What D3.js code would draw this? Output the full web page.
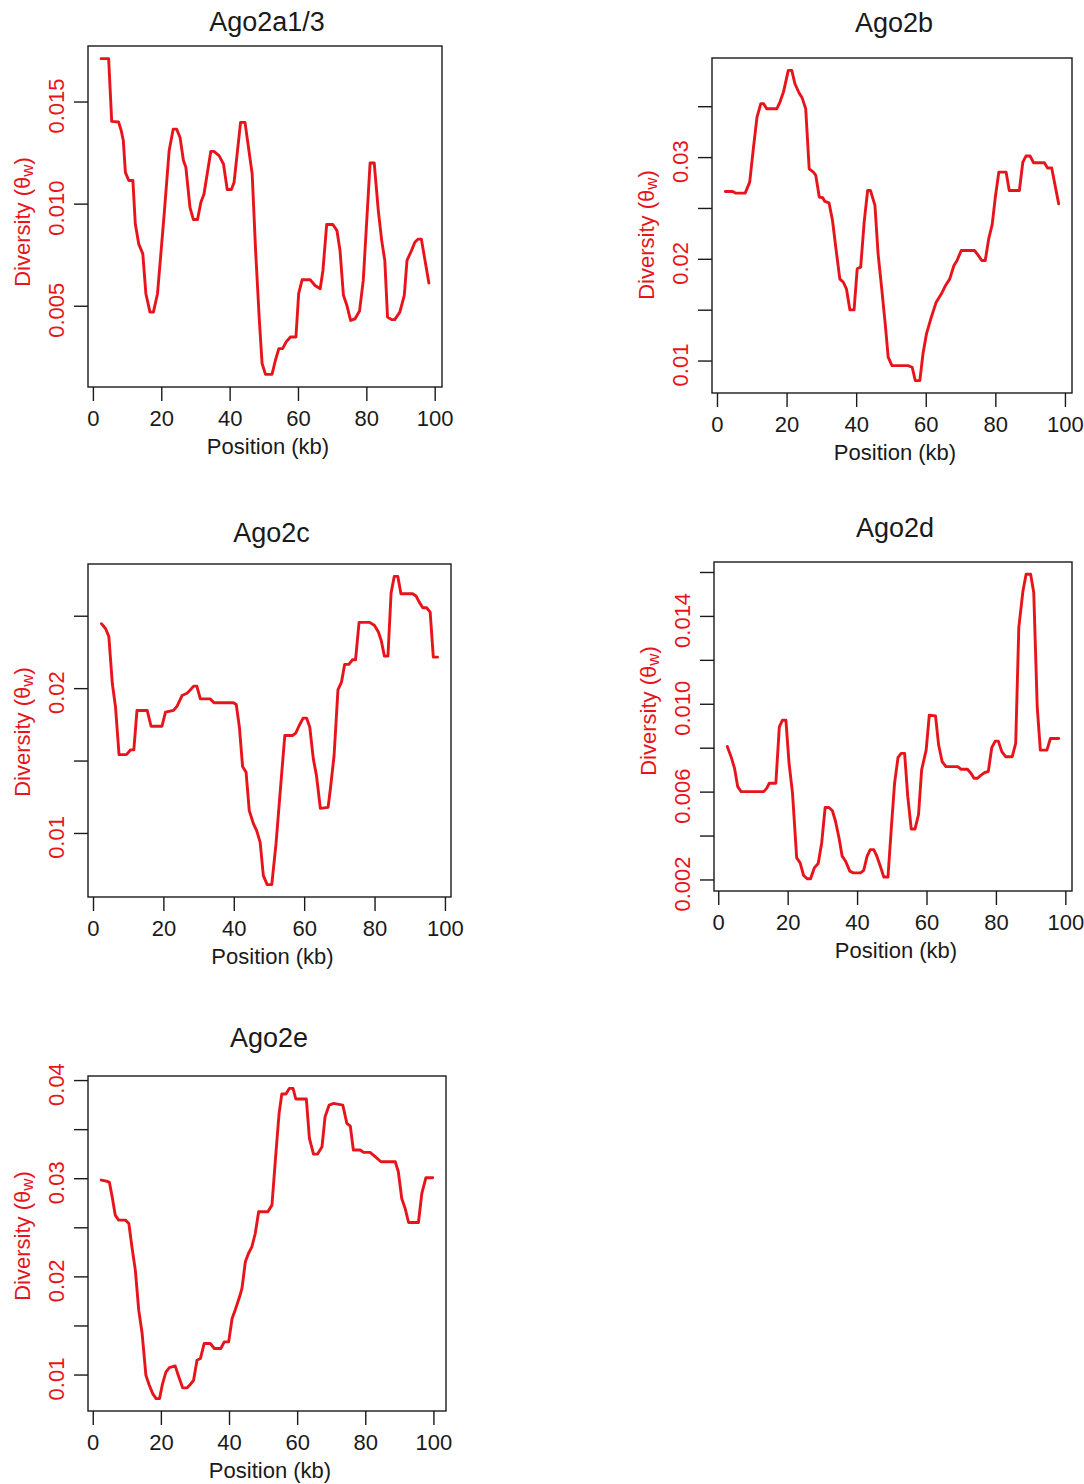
<!DOCTYPE html>
<html>
<head>
<meta charset="utf-8">
<script src="https://cdn.jsdelivr.net/npm/d3@7/dist/d3.min.js"></script>
<style>
body{margin:0;background:#fff;}
text{font-family:"Liberation Sans",Arial,Helvetica,sans-serif;}
</style>
</head>
<body>
<svg id="chart" width="1084" height="1484"></svg>
<script>
// ---- data ----
var ago2a_kb  = [2.4,4.6,5.5,7.5,8.3,8.9,9.5,10.5,11.7,12.4,13.4,14.6,15.5,16.7,17.7,18.9,20.9,22.3,23.5,24.5,25.5,26.5,27.2,28.4,29.4,30.6,31.6,32.5,34.5,35.4,36.9,38.2,39.3,40.5,41.3,43.2,44.5,46.6,47.6,48.7,49.5,50.5,52.4,53.4,54.4,55.5,56.5,57.8,59.4,60.2,61.2,63.6,65.0,66.5,67.3,68.4,70.2,71.4,72.3,73.3,74.3,75.4,76.7,78.0,79.1,81.1,82.3,83.5,84.5,85.4,86.2,87.4,88.3,89.8,91.1,91.9,93.2,94.2,95.1,96.1,98.3];
var ago2a_div = [0.0171,0.0171,0.01403,0.0140,0.01357,0.01308,0.01153,0.01113,0.01113,0.00901,0.00803,0.00754,0.00559,0.00469,0.00469,0.00559,0.00958,0.01259,0.01365,0.01365,0.01324,0.0121,0.01178,0.00982,0.00922,0.00922,0.01007,0.01047,0.01256,0.01256,0.01235,0.01194,0.01069,0.01069,0.01104,0.01398,0.01398,0.01145,0.0077,0.00428,0.00217,0.00164,0.00164,0.00233,0.0029,0.0029,0.00322,0.00347,0.00347,0.00559,0.00627,0.00627,0.00599,0.00583,0.00673,0.00898,0.00898,0.00868,0.0077,0.00551,0.00502,0.00428,0.00436,0.00474,0.00624,0.01199,0.01199,0.00966,0.00819,0.00722,0.00445,0.00432,0.00432,0.00469,0.00551,0.00722,0.0077,0.00811,0.00826,0.00826,0.00611];

var ago2b_kb  = [2.4,4.5,5.3,8.1,9.4,10.5,11.5,12.6,13.4,14.3,17.2,18.1,19.1,20.5,21.5,22.4,23.6,24.5,25.5,26.5,27.7,28.4,29.4,30.4,31.0,32.2,33.2,34.2,35.3,36.3,37.2,38.2,39.4,40.3,41.3,42.3,43.3,44.1,45.4,46.3,47.3,48.4,49.2,50.3,54.9,56.1,57.0,58.3,59.2,60.2,61.6,63.0,64.5,65.7,66.9,68.1,69.0,70.2,74.0,75.0,76.1,77.1,78.1,79.1,80.0,81.0,83.1,84.0,86.9,87.9,88.8,90.0,91.0,94.1,95.0,96.2,98.2];
var ago2b_div = [0.02662,0.02662,0.02646,0.02646,0.02754,0.03098,0.03393,0.03525,0.03525,0.03475,0.03475,0.03541,0.03639,0.03852,0.03852,0.03721,0.0363,0.0358,0.03475,0.02885,0.02852,0.0282,0.02607,0.026,0.02564,0.02551,0.02377,0.02098,0.01803,0.0177,0.01705,0.01498,0.01498,0.01902,0.01918,0.02361,0.02672,0.02672,0.02525,0.02049,0.01721,0.01344,0.01033,0.0095,0.0095,0.00934,0.00803,0.00803,0.01066,0.01262,0.01426,0.01574,0.01656,0.01738,0.01803,0.01934,0.01984,0.02082,0.02082,0.02039,0.01984,0.01984,0.02197,0.02338,0.02607,0.02852,0.02852,0.02672,0.02672,0.02951,0.0301,0.0301,0.02944,0.02944,0.02892,0.02892,0.02541];

var ago2c_kb  = [2.4,3.6,4.5,5.5,6.4,7.4,9.5,10.7,11.6,12.5,15.4,16.5,19.6,20.6,22.9,23.9,25.3,26.7,27.5,28.6,29.5,30.5,33.3,34.4,39.9,40.7,41.6,42.5,43.5,44.4,45.6,46.5,47.5,48.4,49.5,50.8,52.0,53.1,54.5,56.7,57.6,58.6,59.7,60.7,61.6,62.6,63.5,64.6,66.8,67.5,68.5,69.6,70.6,71.5,72.7,73.7,74.6,75.6,78.6,80.0,81.1,81.9,82.8,83.8,84.7,85.6,86.6,87.5,90.8,91.8,92.7,93.7,94.8,95.8,96.7,97.9];
var ago2c_div = [0.02445,0.0241,0.02357,0.0203,0.01869,0.01541,0.01541,0.01574,0.01574,0.01846,0.01846,0.01737,0.01737,0.01834,0.01846,0.01876,0.01949,0.01965,0.01984,0.02014,0.02014,0.01926,0.01926,0.01899,0.01899,0.01887,0.0173,0.01459,0.01419,0.01154,0.01062,0.01016,0.00935,0.00705,0.00643,0.00643,0.00924,0.01258,0.01673,0.01673,0.01689,0.01742,0.01793,0.01793,0.0173,0.01512,0.01396,0.0117,0.01177,0.01316,0.01535,0.01988,0.02041,0.02164,0.02164,0.02196,0.02196,0.02454,0.02454,0.02433,0.02387,0.02329,0.02221,0.02221,0.02657,0.02772,0.02772,0.02652,0.02652,0.02636,0.02594,0.02555,0.02555,0.02525,0.02214,0.02214];

var ago2d_kb  = [2.6,3.7,4.7,5.6,6.6,13.1,14.0,14.7,16.6,17.6,18.5,19.5,20.4,21.4,22.6,23.6,24.6,25.7,26.6,27.7,28.8,29.8,30.8,31.9,32.9,33.8,34.8,35.7,36.7,37.9,38.9,41.0,41.9,42.9,43.8,44.8,45.7,46.7,47.7,48.9,49.9,50.8,51.8,52.7,53.7,54.6,55.6,56.7,57.7,58.6,59.9,60.8,62.6,63.5,64.5,65.6,69.0,69.9,71.8,72.8,73.7,74.7,75.8,76.8,77.8,78.8,79.8,80.7,81.7,82.8,84.7,85.7,86.6,87.8,88.7,90.0,90.9,91.9,92.8,94.7,95.7,98.1];
var ago2d_div = [0.00805,0.00759,0.00706,0.00623,0.006,0.006,0.00616,0.00638,0.00638,0.00895,0.00925,0.00925,0.00729,0.00593,0.00298,0.00276,0.00218,0.00203,0.00203,0.00253,0.00273,0.00366,0.00528,0.00528,0.00513,0.00464,0.00389,0.00306,0.00283,0.00238,0.0023,0.0023,0.00241,0.00306,0.00336,0.00336,0.00306,0.0026,0.00211,0.00211,0.00442,0.00638,0.00756,0.00774,0.00774,0.00578,0.0043,0.0043,0.00495,0.00699,0.00789,0.00948,0.00945,0.00812,0.00737,0.00714,0.00714,0.00702,0.00702,0.00684,0.00661,0.00661,0.00676,0.00687,0.00691,0.008,0.0083,0.0083,0.00782,0.00759,0.00759,0.0082,0.01349,0.01515,0.0159,0.0159,0.01507,0.00986,0.00789,0.00789,0.00842,0.00842];

var ago2e_kb  = [2.5,4.0,4.9,5.7,6.6,7.6,9.6,10.6,11.5,12.5,13.5,14.5,15.6,16.6,17.6,18.6,19.6,20.5,21.5,22.5,24.2,25.2,26.4,27.7,28.6,29.6,30.6,31.6,32.7,34.5,35.7,37.6,38.6,39.9,40.9,41.8,43.1,43.8,44.8,45.7,46.7,47.7,48.7,51.4,52.6,53.8,54.7,55.5,56.7,57.7,58.8,59.6,62.7,63.6,64.8,66.0,67.3,68.2,69.4,70.7,73.4,74.6,75.6,76.5,78.5,79.5,81.4,82.9,84.6,88.8,89.7,90.7,91.7,92.7,95.6,96.6,97.8,99.8];
var ago2e_div = [0.02981,0.02971,0.02957,0.02811,0.02624,0.02573,0.02573,0.02539,0.02301,0.02064,0.01656,0.01418,0.00993,0.00891,0.00806,0.00755,0.00755,0.00908,0.01027,0.01071,0.01088,0.00983,0.00864,0.00864,0.00898,0.00942,0.01146,0.01163,0.01316,0.01316,0.01265,0.01265,0.01333,0.01333,0.01571,0.01656,0.01792,0.01877,0.02149,0.02233,0.02301,0.02437,0.02658,0.02658,0.02726,0.0327,0.03661,0.03858,0.03858,0.03915,0.03915,0.03807,0.03807,0.03406,0.03246,0.03246,0.03321,0.03627,0.03745,0.03762,0.03745,0.03559,0.03531,0.03287,0.03287,0.03263,0.03263,0.03219,0.03168,0.03168,0.03066,0.02794,0.02692,0.02549,0.02549,0.02845,0.03005,0.03005];

// ---- ticks ----
var xTicks = [0,20,40,60,80,100];
var ago2a_yTicks = [0.005,0.010,0.015];
var ago2a_yLabels = ["0.005","0.010","0.015"];
var ago2b_yTicks = [0.01,0.015,0.02,0.025,0.03,0.035];
var ago2b_yLabels = ["0.01","","0.02","","0.03",""];
var ago2c_yTicks = [0.01,0.015,0.02,0.025];
var ago2c_yLabels = ["0.01","","0.02",""];
var ago2d_yTicks = [0.002,0.004,0.006,0.008,0.010,0.012,0.014,0.016];
var ago2d_yLabels = ["0.002","","0.006","","0.010","","0.014",""];
var ago2e_yTicks = [0.01,0.015,0.02,0.025,0.03,0.035,0.04];
var ago2e_yLabels = ["0.01","","0.02","","0.03","","0.04"];

var titles = ["Ago2a1/3","Ago2b","Ago2c","Ago2d","Ago2e"];

// ---- layout (pixel boxes of each panel) ----
var red = "#e8141b";
var ink = "#1a1a1a";
var panels = [
  {title:titles[0], kb:ago2a_kb, div:ago2a_div, yt:ago2a_yTicks, yl:ago2a_yLabels, box:[88,46,442,387], titleY:31,  ylabY:222},
  {title:titles[1], kb:ago2b_kb, div:ago2b_div, yt:ago2b_yTicks, yl:ago2b_yLabels, box:[712,58,1072,393], titleY:32, ylabY:235},
  {title:titles[2], kb:ago2c_kb, div:ago2c_div, yt:ago2c_yTicks, yl:ago2c_yLabels, box:[88,564,451,897], titleY:542, ylabY:732},
  {title:titles[3], kb:ago2d_kb, div:ago2d_div, yt:ago2d_yTicks, yl:ago2d_yLabels, box:[714,562,1072,891], titleY:537, ylabY:711},
  {title:titles[4], kb:ago2e_kb, div:ago2e_div, yt:ago2e_yTicks, yl:ago2e_yLabels, box:[88,1076,446,1411], titleY:1047, ylabY:1236}
];

var svg = d3.select("#chart");
svg.append("rect").attr("width",1084).attr("height",1484).attr("fill","#fff");

// R style: pad data range by 4% on each side
function padded(arr){
  var e = d3.extent(arr), r = e[1]-e[0];
  return [e[0]-0.04*r, e[1]+0.04*r];
}

panels.forEach(function(p){
  var L=p.box[0], T=p.box[1], R=p.box[2], B=p.box[3];
  var x = d3.scaleLinear().domain(padded(p.kb)).range([L,R]);
  var y = d3.scaleLinear().domain(padded(p.div)).range([B,T]);
  var g = svg.append("g");

  // title
  g.append("text")
    .attr("x",(L+R)/2+2)
    .attr("y",p.titleY)
    .attr("text-anchor","middle")
    .attr("font-size",27)
    .attr("fill",ink)
    .text(p.title);

  // x axis
  var xa = g.append("g")
    .attr("transform","translate(0,"+B+")")
    .call(d3.axisBottom(x).tickValues(xTicks).tickSize(14).tickPadding(9).tickSizeOuter(0));
  xa.select(".domain").remove();
  xa.selectAll("line").attr("stroke",ink).attr("stroke-width",1.4);
  xa.selectAll("text").attr("font-size",22).attr("fill",ink).attr("font-family","Liberation Sans, Arial, sans-serif");

  g.append("text")
    .attr("x",(L+R)/2+3)
    .attr("y",B+66.5)
    .attr("text-anchor","middle")
    .attr("font-size",22)
    .attr("fill",ink)
    .text("Position (kb)");

  // y axis: ticks only, rotated red labels
  var ya = g.append("g")
    .attr("transform","translate("+L+",0)")
    .call(d3.axisLeft(y).tickValues(p.yt).tickSize(14).tickFormat(function(d,i){return p.yl[i];}).tickSizeOuter(0));
  ya.select(".domain").remove();
  ya.selectAll("line").attr("stroke",ink).attr("stroke-width",1.4);
  ya.selectAll("text")
    .attr("font-size",22)
    .attr("fill",red)
    .attr("font-family","Liberation Sans, Arial, sans-serif")
    .attr("text-anchor","middle")
    .attr("dy",0)
    .attr("x",0).attr("y",0)
    .attr("transform","translate(-24.5,4) rotate(-90)");

  var yl = g.append("text")
    .attr("transform","translate("+(L-58)+","+p.ylabY+") rotate(-90)")
    .attr("text-anchor","middle")
    .attr("font-size",22)
    .attr("fill",red);
  yl.append("tspan").text("Diversity (\u03B8");
  yl.append("tspan").attr("font-size",17).attr("dy",3).text("w");
  yl.append("tspan").attr("dy",-3).text(")");

  // the series
  var pts = p.kb.map(function(k,i){return [k,p.div[i]];});
  g.append("path")
    .datum(pts)
    .attr("fill","none")
    .attr("stroke",red)
    .attr("stroke-width",2.9)
    .attr("stroke-linejoin","round")
    .attr("stroke-linecap","round")
    .attr("d",d3.line().x(function(d){return x(d[0]);}).y(function(d){return y(d[1]);}));

  // frame
  g.append("rect")
    .attr("x",L).attr("y",T)
    .attr("width",R-L).attr("height",B-T)
    .attr("fill","none")
    .attr("stroke",ink)
    .attr("stroke-width",1.4);
});
</script>
</body>
</html>
